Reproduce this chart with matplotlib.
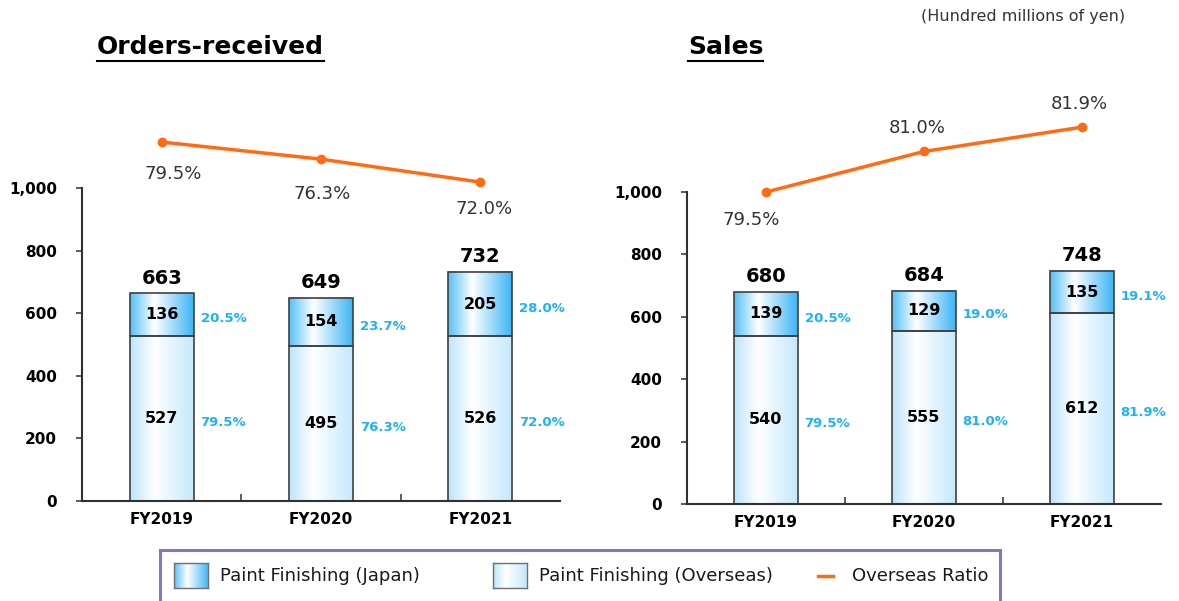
import numpy as np
import matplotlib
matplotlib.use('Agg')
import matplotlib.pyplot as plt
from matplotlib.colors import to_rgb
from matplotlib.lines import Line2D
from matplotlib.patches import Rectangle

plt.rcParams['font.family'] = 'DejaVu Sans'

# ---- data ----
years = ['FY2019', 'FY2020', 'FY2021']

orders_overseas = [527, 495, 526]
orders_japan = [136, 154, 205]
orders_total = [663, 649, 732]
orders_overseas_pct = ['79.5%', '76.3%', '72.0%']
orders_japan_pct = ['20.5%', '23.7%', '28.0%']
orders_ratio = [79.5, 76.3, 72.0]

sales_overseas = [540, 555, 612]
sales_japan = [139, 129, 135]
sales_total = [680, 684, 748]
sales_overseas_pct = ['79.5%', '81.0%', '81.9%']
sales_japan_pct = ['20.5%', '19.0%', '19.1%']
sales_ratio = [79.5, 81.0, 81.9]

ORANGE = '#FF6A14'
PCT_BLUE = '#1FB2F2'
EDGE = '#404040'


def gradient(c_left, c_right, mid=0.38, n=256):
    t = np.linspace(0, 1, n)[:, None]
    cl = np.array(to_rgb(c_left))
    cr = np.array(to_rgb(c_right))
    w = np.ones(3)
    img = np.where(t < mid, cl + (w - cl) * (t / mid),
                   w + (cr - w) * ((t - mid) / (1 - mid)))
    return img[None, :, :]


grad_japan = gradient('#55C0F8', '#3DB5F6')
grad_overseas = gradient('#BCE4FB', '#C4E8FC')


def fill_bars(ax, bars, img):
    for p in bars:
        x0, y0 = p.get_x(), p.get_y()
        ax.imshow(img, extent=[x0, x0 + p.get_width(), y0, y0 + p.get_height()],
                  aspect='auto', interpolation='bicubic', zorder=1)


def panel(ax, overseas, japan, total, ov_pct, jp_pct, ratio, rlim, offsets):
    x = np.arange(len(years))
    b1 = ax.bar(x, overseas, 0.4, facecolor='none', edgecolor=EDGE, lw=1.2, zorder=2)
    b2 = ax.bar(x, japan, 0.4, bottom=overseas, facecolor='none', edgecolor=EDGE,
                lw=1.2, zorder=2)
    fill_bars(ax, b1, grad_overseas)
    fill_bars(ax, b2, grad_japan)

    for i in range(len(x)):
        ax.text(x[i], overseas[i] / 2, str(overseas[i]), ha='center', va='center',
                fontsize=11.5, fontweight='bold', zorder=3)
        ax.text(x[i], overseas[i] + japan[i] / 2, str(japan[i]), ha='center',
                va='center', fontsize=11.5, fontweight='bold', zorder=3)
        ax.annotate(str(total[i]), (x[i], total[i]), xytext=(0, 4),
                    textcoords='offset points', ha='center', va='bottom',
                    fontsize=14, fontweight='bold')
        ax.annotate(ov_pct[i], (x[i] + 0.2, overseas[i] / 2), xytext=(5, -3),
                    textcoords='offset points', ha='left', va='center',
                    fontsize=9.5, fontweight='bold', color=PCT_BLUE)
        ax.annotate(jp_pct[i], (x[i] + 0.2, overseas[i] + japan[i] / 2),
                    xytext=(5, -3), textcoords='offset points', ha='left',
                    va='center', fontsize=9.5, fontweight='bold', color=PCT_BLUE)

    ax.set_xlim(-0.5, 2.5)
    ax.set_ylim(0, 1000)
    ax.set_yticks(np.arange(0, 1001, 200))
    ax.set_yticklabels([f'{v:,}' for v in range(0, 1001, 200)])
    ax.set_xticks(x)
    ax.set_xticklabels(years)
    ax.set_xticks([0.5, 1.5], minor=True)
    ax.tick_params(axis='x', which='major', length=0, pad=8, labelsize=11)
    ax.tick_params(axis='x', which='minor', direction='in', length=5, width=1.2,
                   color=EDGE)
    ax.tick_params(axis='y', direction='out', length=4, width=1.2, color=EDGE,
                   pad=14, labelsize=11)
    for lab in ax.get_xticklabels() + ax.get_yticklabels():
        lab.set_fontweight('bold')
    for s in ['top', 'right']:
        ax.spines[s].set_visible(False)
    for s in ['left', 'bottom']:
        ax.spines[s].set_linewidth(1.5)
        ax.spines[s].set_color('#303030')

    tw = ax.twinx()
    tw.set_ylim(*rlim)
    tw.axis('off')
    tw.plot(x, ratio, color=ORANGE, lw=2.5, marker='o', ms=6, clip_on=False)
    for i in range(len(x)):
        tw.annotate(f'{ratio[i]:.1f}%', (x[i], ratio[i]), xytext=offsets[i],
                    textcoords='offset points', ha='center', va='center',
                    fontsize=13, color='#333333', annotation_clip=False)


fig = plt.figure(figsize=(11.79, 6.01), dpi=100)
ax1 = fig.add_axes([0.0696, 0.1664, 0.4054, 0.5208])
ax2 = fig.add_axes([0.5827, 0.1614, 0.4020, 0.5191])

panel(ax1, orders_overseas, orders_japan, orders_total, orders_overseas_pct,
      orders_japan_pct, orders_ratio, (12.3, 70.9),
      [(8.5, -23), (1, -25), (3, -19)])
panel(ax2, sales_overseas, sales_japan, sales_total, sales_overseas_pct,
      sales_japan_pct, sales_ratio, (67.96, 79.5),
      [(-11, -20), (-5, 17), (-2, 17)])

# titles with underline
titles = []
titles.append(fig.text(97 / 1179, 1 - 47 / 601, 'Orders-received', fontsize=18,
                       fontweight='bold', ha='left', va='center'))
titles.append(fig.text(688 / 1179, 1 - 47 / 601, 'Sales', fontsize=18,
                       fontweight='bold', ha='left', va='center'))
fig.text(1125 / 1179, 1 - 16 / 601, '(Hundred millions of yen)', fontsize=11.5,
         color='#333333', ha='right', va='center')

fig.canvas.draw()
r = fig.canvas.get_renderer()
for t in titles:
    bb = t.get_window_extent(r).transformed(fig.transFigure.inverted())
    yl = bb.y0 - 2 / 601
    fig.add_artist(Line2D([bb.x0, bb.x1], [yl, yl], color='black', lw=1.5))

# legend box drawn by hand so swatches can carry the gradient
W, H = 1179, 601
fig.add_artist(Rectangle((160 / W, -0.05), (1000 - 160) / W, 0.05 + (H - 550) / H,
                         transform=fig.transFigure, fill=False, edgecolor='#7B7BC0',
                         lw=2.2, clip_on=False))
for sx, img, label in [(174, grad_japan, 'Paint Finishing (Japan)'),
                       (493, grad_overseas, 'Paint Finishing (Overseas)')]:
    sw = fig.add_axes([sx / W, (H - 588) / H, 34 / W, 25 / H])
    sw.imshow(img, aspect='auto', extent=[0, 1, 0, 1], interpolation='bicubic')
    sw.set_xticks([])
    sw.set_yticks([])
    for s in sw.spines.values():
        s.set_color('#707070')
        s.set_linewidth(1)
    fig.text((sx + 46) / W, 1 - 576 / H, label, fontsize=13, color='#1a1a1a',
             ha='left', va='center')
fig.add_artist(Line2D([818 / W, 833 / W], [1 - 576 / H, 1 - 576 / H], color=ORANGE,
                      lw=2.5))
fig.text(852 / W, 1 - 576 / H, 'Overseas Ratio', fontsize=13, color='#1a1a1a',
         ha='left', va='center')

fig.savefig('out.png', dpi=100)
